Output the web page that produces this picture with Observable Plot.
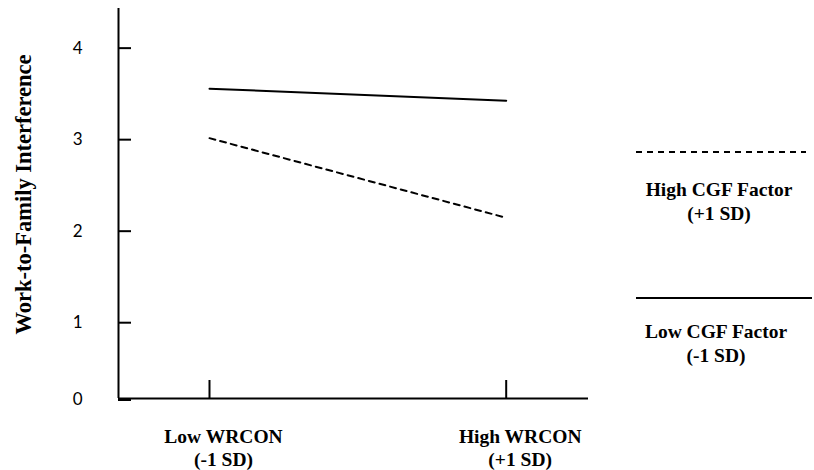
<!DOCTYPE html>
<html><head><meta charset="utf-8">
<script src="https://cdn.jsdelivr.net/npm/d3@7"></script>
<script src="https://cdn.jsdelivr.net/npm/@observablehq/plot@0.6"></script>
<style>
html,body{margin:0;padding:0;background:#fff;}
#wrap{position:relative;width:814px;height:470px;overflow:hidden;background:#fff;}
#wrap svg{position:absolute;left:0;top:0;}
</style></head><body><div id="wrap"></div>
<script>
// ---- data ----
const xCategories = ["Low WRCON\n(-1 SD)", "High WRCON\n(+1 SD)"];
const seriesNames = ["High CGF Factor\n(+1 SD)", "Low CGF Factor\n(-1 SD)"];
const highCGF = [3.00, 2.13];   // dashed
const lowCGF = [3.54, 3.41];    // solid
const yTickValues = [0, 1, 2, 3, 4];
const xTickValues = [0, 1];
const yTitle = "Work-to-Family Interference";

const rows = [
  ...highCGF.map((v, i) => ({x: i, y: v, series: seriesNames[0]})),
  ...lowCGF.map((v, i) => ({x: i, y: v, series: seriesNames[1]}))
];

const serif = "'Liberation Serif','Times New Roman',serif";
const xDomain = [-0.3067, 1.2774];

const chart = Plot.plot({
  width: 814, height: 470,
  marginLeft: 118, marginRight: 226, marginTop: 8, marginBottom: 72,
  style: {background: "white", color: "black", overflow: "visible"},
  x: {type: "linear", domain: xDomain, label: null},
  y: {type: "linear", domain: [0, 1, 4.42], range: [398, 320.7, 7.7], label: null},
  marks: [
    Plot.ruleY([0], {stroke: "black", strokeWidth: 2}),
    Plot.ruleX([xDomain[0]], {stroke: "black", strokeWidth: 2}),
    Plot.axisY(yTickValues, {tickSize: -13, tickPadding: 49, strokeWidth: 2, fontSize: 17, fontFamily: "Lato", dy: 1.5, tickFormat: d => String(d), label: null}),
    Plot.axisX(xTickValues, {tickSize: -18, strokeWidth: 2, fill: "none", label: null}),
    Plot.axisX(xTickValues, {tickSize: 0, tickPadding: 28.2, tickFormat: i => xCategories[i], fontSize: 19.5, fontWeight: "bold", fontFamily: serif, lineHeight: 1.18, dx: 14, label: null}),
    Plot.line(rows.filter(d => d.series === seriesNames[1]), {x: "x", y: "y", stroke: "black", strokeWidth: 2}),
    Plot.line(rows.filter(d => d.series === seriesNames[0]), {x: "x", y: "y", stroke: "black", strokeWidth: 2, strokeDasharray: "6,5"}),
    Plot.text([yTitle], {frameAnchor: "left", textAnchor: "middle", lineAnchor: "middle", rotate: -90, dx: -95, dy: -9, fontSize: 22.5, fontWeight: "bold", fontFamily: serif, fill: "black"})
  ]
});
document.getElementById("wrap").appendChild(chart);

// ---- legend (overlay) ----
const legendItems = [
  {name: seriesNames[0], dash: "6,5", y: 152, x1: 636, x2: 806, tx: 719, ty: 196},
  {name: seriesNames[1], dash: null, y: 298, x1: 636, x2: 812, tx: 716, ty: 338}
];
const lg = d3.select("#wrap").append("svg").attr("width", 814).attr("height", 470);
for (const it of legendItems) {
  lg.append("line").attr("x1", it.x1).attr("x2", it.x2).attr("y1", it.y).attr("y2", it.y)
    .attr("stroke", "black").attr("stroke-width", 2).attr("stroke-dasharray", it.dash);
  const t = lg.append("text").attr("text-anchor", "middle")
    .attr("font-family", serif).attr("font-weight", "bold").attr("font-size", 19.5).attr("fill", "black");
  it.name.split("\n").forEach((s, k) => {
    t.append("tspan").attr("x", it.tx).attr("y", it.ty + k * 24).text(s);
  });
}
</script></body></html>
